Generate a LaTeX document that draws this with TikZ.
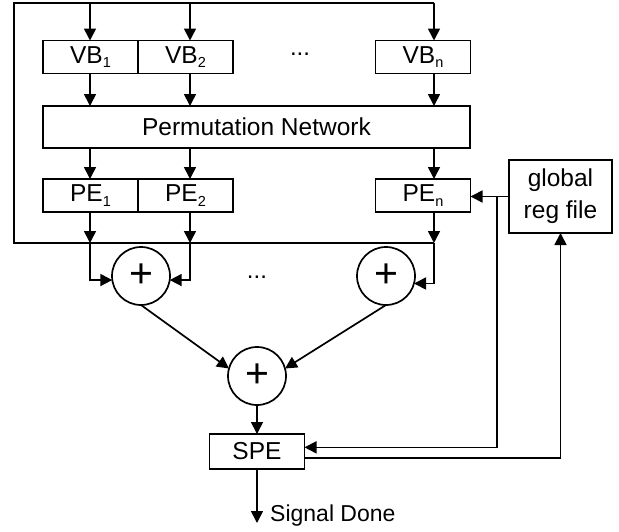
\documentclass[tikz,border=0pt]{standalone}
\usepackage{fontspec}
\setmainfont{Liberation Sans}
\usepackage{tikz}
\usetikzlibrary{positioning, arrows.meta}

\newcommand{\vsub}[1]{\raisebox{-4.5pt}{\fontsize{14.5}{14.5}\selectfont #1}}

\begin{document}
\begin{tikzpicture}[
  x=1pt, y=-1pt,
  unit/.style={draw, line width=1.7pt, minimum width=95pt, minimum height=33pt,
               inner sep=0pt, outer sep=0pt, font=\fontsize{24.5}{32}\selectfont},
  adder/.style={draw, circle, line width=1.7pt, minimum size=58pt, inner sep=0pt,
                outer sep=0pt, font=\fontsize{41}{41}\selectfont},
  txt/.style={font=\fontsize{24}{28}\selectfont, inner sep=0pt},
  wire/.style={line width=1.7pt},
  edge/.style={-{Triangle[length=12pt, width=12pt]}, line width=1.7pt}
]
  \useasboundingbox (0,0) rectangle (619,531);

  \node[unit] (vb1) at (90.5,57) {VB\vsub{1}};
  \node[unit, right=0pt of vb1] (vb2) {VB\vsub{2}};
  \node[txt] (vdots) at (300,54) {...};
  \node[unit] (vbn) at (423,57) {VB\vsub{n}};

  \node[unit, minimum width=427pt, minimum height=42pt] (perm) at (256.5,127) {Permutation Network};

  \node[unit] (pe1) at (90.5,195.5) {PE\vsub{1}};
  \node[unit, right=0pt of pe1] (pe2) {PE\vsub{2}};
  \node[unit] (pen) at (423,195.5) {PE\vsub{n}};

  \node[unit, minimum width=103pt, minimum height=73pt, align=center] (greg) at (560.5,196.5) {global\\reg file};

  \node[adder] (add1) at (141,276) {+};
  \node[txt] (adots) at (257,277) {...};
  \node[adder] (add2) at (386,276) {+};
  \node[adder] (add3) at (257,376) {+};

  \node[unit, minimum height=35pt] (spe) at (257,451.5) {SPE};
  \coordinate (done) at (257,523);
  \node[txt, anchor=west, font=\fontsize{23}{28}\selectfont] (sig) at (270,516) {Signal Done};

  % feedback loop round the vector blocks
  \coordinate (tl) at (14,3);
  \coordinate (bl) at (14,243);
  \coordinate (top1) at (90,3);
  \coordinate (top2) at (190,3);
  \coordinate (topn) at (434,3);
  \draw[wire] (topn) -- (tl) -- (bl) -- (topn |- bl);

  \foreach \c/\v/\p in {top1/vb1/pe1, top2/vb2/pe2, topn/vbn/pen} {
    \draw[edge] (\c) -- (\c |- \v.north);
    \draw[edge] (\c |- \v.south) -- (\c |- perm.north);
    \draw[edge] (\c |- perm.south) -- (\c |- \p.north);
    \draw[edge] (\c |- \p.south) -- (\c |- bl);
  }

  % adder tree
  \draw[edge] (top1 |- bl) |- (add1.188);
  \draw[edge] (top2 |- bl) |- (add1.-8);
  \draw[edge] (topn |- bl) |- (add2.-15);
  \draw[edge] (add1.south) -- (add3.165);
  \draw[edge] (add2.south) -- (add3.15);
  \draw[edge] (add3) -- (spe);
  \draw[edge] (spe) -- (done);

  % global reg file
  \coordinate (tap) at (497,0);
  \draw[edge] (greg.west) -- (greg.west -| pen.east);
  \draw[edge] (tap |- greg.west) |- (spe.5);
  \draw[edge] (spe.-8) -| (greg.south);
\end{tikzpicture}
\end{document}
